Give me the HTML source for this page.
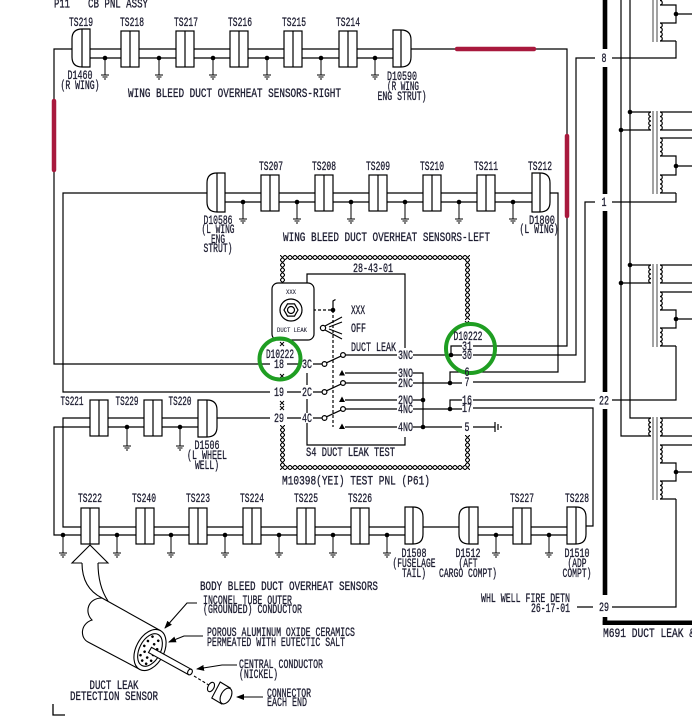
<!DOCTYPE html>
<html><head><meta charset="utf-8">
<style>
html,body{margin:0;padding:0;background:#fff;}
svg{display:block;}
text{font-family:"Liberation Mono","DejaVu Sans Mono",monospace;font-size:12.5px;fill:#1c1c30;stroke:#1c1c30;stroke-width:0.3px;}
.t{font-size:6.5px;stroke-width:0.1px;}
</style></head><body>
<svg width="692" height="720" viewBox="0 0 692 720" xmlns="http://www.w3.org/2000/svg">
<defs>
<pattern id="h" width="5" height="5" patternUnits="userSpaceOnUse">
<rect width="5" height="5" fill="#fff"/>
<path d="M0,0L5,5M5,0L0,5" stroke="#000" stroke-width="1.1"/>
</pattern>
<marker id="a" markerWidth="8" markerHeight="6" refX="7" refY="3" orient="auto" markerUnits="userSpaceOnUse">
<path d="M0,0L8,3L0,6Z" fill="#000"/>
</marker>
</defs>

<!-- WIRES -->
<g stroke="#000" stroke-width="1.2" fill="none">
<path d="M270,364H54V49H72M90,49H393M90,58H393M411,49H567V346H473"/>
<path d="M270,392H63V193H207M225,193H532M225,202H532M550,193H558V372H473"/>
<path d="M270,418H217M198,418H63V527H81M198,427H54V535H81"/>
<path d="M99,527H405M99,535H405M423,527H459M478,527H567M478,535H567M586,526H593V408H473"/>
<path d="M595,58H576V355H473M473,382H585V202H595M473,400H595M473,427H495"/>
<path d="M495,422V432M498,424V430M501,426V428"/>
<path d="M612,58H676V41M612,202H676V193M612,400H676V346M577,607H593M612,607H676V499"/>
<path d="M621,0V436H651M630,0V418H651M630,112H651M621,130H651M630,265H651M621,283H651"/>
<path d="M660,5H676V23H660M676,14H692M660,41H676"/>
<path d="M660,112H692M660,130H692M660,138H692M660,156H676V175H660M676,166H692M660,193H676"/>
<path d="M660,265H692M660,283H692M660,292H692M660,310H676V328H660M676,319H692M660,346H676"/>
<path d="M660,418H692M660,436H692M660,445H692M660,463H676V481H660M676,472H692M660,499H676"/>
<path d="M660,-13a2.25,2.25 0 0 1 0,4.5a2.25,2.25 0 0 1 0,4.5a2.25,2.25 0 0 1 0,4.5a2.25,2.25 0 0 1 0,4.5M660,23a2.25,2.25 0 0 1 0,4.5a2.25,2.25 0 0 1 0,4.5a2.25,2.25 0 0 1 0,4.5a2.25,2.25 0 0 1 0,4.5"/>
<path d="M660,112a2.25,2.25 0 0 1 0,4.5a2.25,2.25 0 0 1 0,4.5a2.25,2.25 0 0 1 0,4.5a2.25,2.25 0 0 1 0,4.5M660,138a2.25,2.25 0 0 1 0,4.5a2.25,2.25 0 0 1 0,4.5a2.25,2.25 0 0 1 0,4.5a2.25,2.25 0 0 1 0,4.5M660,175a2.25,2.25 0 0 1 0,4.5a2.25,2.25 0 0 1 0,4.5a2.25,2.25 0 0 1 0,4.5a2.25,2.25 0 0 1 0,4.5"/>
<path d="M660,265a2.25,2.25 0 0 1 0,4.5a2.25,2.25 0 0 1 0,4.5a2.25,2.25 0 0 1 0,4.5a2.25,2.25 0 0 1 0,4.5M660,292a2.25,2.25 0 0 1 0,4.5a2.25,2.25 0 0 1 0,4.5a2.25,2.25 0 0 1 0,4.5a2.25,2.25 0 0 1 0,4.5M660,328a2.25,2.25 0 0 1 0,4.5a2.25,2.25 0 0 1 0,4.5a2.25,2.25 0 0 1 0,4.5a2.25,2.25 0 0 1 0,4.5"/>
<path d="M660,418a2.25,2.25 0 0 1 0,4.5a2.25,2.25 0 0 1 0,4.5a2.25,2.25 0 0 1 0,4.5a2.25,2.25 0 0 1 0,4.5M660,445a2.25,2.25 0 0 1 0,4.5a2.25,2.25 0 0 1 0,4.5a2.25,2.25 0 0 1 0,4.5a2.25,2.25 0 0 1 0,4.5M660,481a2.25,2.25 0 0 1 0,4.5a2.25,2.25 0 0 1 0,4.5a2.25,2.25 0 0 1 0,4.5a2.25,2.25 0 0 1 0,4.5"/>
<path d="M651,112a2.25,2.25 0 0 0 0,4.5a2.25,2.25 0 0 0 0,4.5a2.25,2.25 0 0 0 0,4.5a2.25,2.25 0 0 0 0,4.5M651,265a2.25,2.25 0 0 0 0,4.5a2.25,2.25 0 0 0 0,4.5a2.25,2.25 0 0 0 0,4.5a2.25,2.25 0 0 0 0,4.5M651,418a2.25,2.25 0 0 0 0,4.5a2.25,2.25 0 0 0 0,4.5a2.25,2.25 0 0 0 0,4.5a2.25,2.25 0 0 0 0,4.5"/>
<path d="M307,283V274H405V348M405,437V445H307V423M307,373V385M307,399V413"/>
<path d="M287,364H301M313,364H322M287,392H301M313,392H322M287,418H301M313,418H322"/>
<path d="M326.5,362.8L340.8,356.2M326.5,390.8L340.8,384.2M326.5,416.8L340.8,410.2"/>
<path d="M345.5,355H397M345.5,383H397M345.5,409H397M345,373H397M345,400H397M345,427H397"/>
<path d="M413,355H462M413,373H423V427M413,400H423M413,427H462M413,383H462M413,409H462"/>
<path d="M451,355V346H462M450,383V372H462M450,409V400H462"/>
<path d="M303,310H333M333,310V427" stroke-dasharray="3,2"/>
<path d="M333,310V301l2.5,-1.5"/>
<path d="M325,326L342,317M325,330L342,339M329,327L342,322M329,329L342,334"/>
<path d="M280,342l4,4M284,342l-4,4M280,374l4,4M284,374l-4,4M280,401l4,4M284,401l-4,4M280,406l4,4M284,406l-4,4M465,321l4,4M469,321l-4,4" stroke-width="1"/>
<g stroke-width="1">
<path d="M105,58V75M101,75H109M102.5,77H107.5M104,79H106M159,58V75M155,75H163M156.5,77H161.5M158,79H160M213,58V75M209,75H217M210.5,77H215.5M212,79H214M267,58V75M263,75H271M264.5,77H269.5M266,79H268M321,58V75M317,75H325M318.5,77H323.5M320,79H322M375,58V75M371,75H379M372.5,77H377.5M374,79H376"/>
<path d="M243,202V219M239,219H247M240.5,221H245.5M242,223H244M297,202V219M293,219H301M294.5,221H299.5M296,223H298M351,202V219M347,219H355M348.5,221H353.5M350,223H352M405,202V219M401,219H409M402.5,221H407.5M404,223H406M459,202V219M455,219H463M456.5,221H461.5M458,223H460M513,202V219M509,219H517M510.5,221H515.5M512,223H514"/>
<path d="M127,427V446M123,446H131M124.5,448H129.5M126,450H128M180,427V446M176,446H184M177.5,448H182.5M179,450H181"/>
<path d="M63,535V553M59,553H67M60.5,555H65.5M62,557H64M117,535V553M113,553H121M114.5,555H119.5M116,557H118M171,535V553M167,553H175M168.5,555H173.5M170,557H172M225,535V553M221,553H229M222.5,555H227.5M224,557H226M279,535V553M275,553H283M276.5,555H281.5M278,557H280M333,535V553M329,553H337M330.5,555H335.5M332,557H334M387,535V553M383,553H391M384.5,555H389.5M386,557H388M496,535V553M492,553H500M493.5,555H498.5M495,557H497M549,535V553M545,553H553M546.5,555H551.5M548,557H550"/>
</g>
</g>

<g stroke="#7a7a7a" stroke-width="1.4" fill="none">
<path d="M653,0V42M657,0V42M653,111V194M657,111V194M653,264V347M657,264V347M653,417V500M657,417V500"/>
</g>

<g stroke="#a8193d" stroke-width="4.5" stroke-linecap="round" fill="none">
<path d="M457,49H534M54,101V170M567,136V216"/>
</g>

<g fill="#000">
<rect x="602.7" y="0" width="4.6" height="49"/>
<rect x="602.7" y="67" width="4.6" height="127"/>
<rect x="602.7" y="211" width="4.6" height="181"/>
<rect x="602.7" y="409" width="4.6" height="186"/>
<rect x="602.7" y="617" width="4.6" height="8"/>
<rect x="602.7" y="620.5" width="90" height="4.5"/>
</g>

<g fill="url(#h)">
<rect x="280" y="255" width="190" height="5"/>
<rect x="280" y="255" width="5" height="30"/>
<rect x="280" y="425" width="5" height="45"/>
<rect x="465" y="255" width="5" height="65"/>
<rect x="465" y="435" width="5" height="35"/>
<rect x="280" y="465" width="190" height="5"/>
</g>

<g stroke="#000" stroke-width="1.2" fill="#fff">
<rect x="121" y="31" width="18" height="36"/><rect x="176" y="31" width="18" height="36"/><rect x="230" y="31" width="18" height="36"/><rect x="284" y="31" width="18" height="36"/><rect x="339" y="31" width="18" height="36"/>
<rect x="261" y="175" width="18" height="36"/><rect x="315" y="175" width="18" height="36"/><rect x="369" y="175" width="18" height="36"/><rect x="423" y="175" width="18" height="36"/><rect x="477" y="175" width="18" height="36"/>
<rect x="90" y="400" width="18" height="36"/><rect x="144" y="400" width="18" height="36"/>
<rect x="81" y="508" width="18" height="36"/><rect x="136" y="508" width="18" height="36"/><rect x="189" y="508" width="18" height="36"/><rect x="243" y="508" width="18" height="36"/><rect x="297" y="508" width="18" height="36"/><rect x="351" y="508" width="18" height="36"/><rect x="513" y="508" width="18" height="36"/>
<path fill="none" d="M130,31V67M185,31V67M239,31V67M293,31V67M348,31V67M270,175V211M324,175V211M378,175V211M432,175V211M486,175V211M99,400V436M153,400V436M90,508V544M145,508V544M198,508V544M252,508V544M306,508V544M360,508V544M522,508V544"/>
<path d="M90,29H82Q72,29 72,39V57Q72,67 82,67H90Z"/>
<path d="M393,30H401Q411,30 411,40V57Q411,67 401,67H393Z"/>
<path d="M225,173H217Q207,173 207,183V202Q207,212 217,212H225Z"/>
<path d="M532,173H540Q550,173 550,183V202Q550,212 540,212H532Z"/>
<path d="M198,400H207Q217,400 217,410V427Q217,437 207,437H198Z"/>
<path d="M405,507H413Q423,507 423,517V534Q423,544 413,544H405Z"/>
<path d="M478,507H469Q459,507 459,517V534Q459,544 469,544H478Z"/>
<path d="M567,507H576Q586,507 586,517V534Q586,544 576,544H567Z"/>
<path fill="none" d="M82,29V67M401,30V67M217,173V212M540,173V212M207,400V437M413,507V544M469,507V544M576,507V544"/>
<rect x="272" y="283" width="42" height="57" rx="6"/>
<circle cx="291" cy="310" r="11"/>
<polygon points="298,310 294.5,316.1 287.5,316.1 284,310 287.5,303.9 294.5,303.9"/>
<circle cx="291" cy="310" r="3.5"/>
<circle cx="323" cy="328" r="2.6"/>
<circle cx="324.5" cy="364" r="2.4"/><circle cx="343" cy="355" r="2.4"/>
<circle cx="324.5" cy="392" r="2.4"/><circle cx="343" cy="383" r="2.4"/>
<circle cx="324.5" cy="418" r="2.4"/><circle cx="343" cy="409" r="2.4"/>
</g>

<g fill="#000">
<path d="M339,375.5L345,375.5L342,370ZM339,402L345,402L342,396.5ZM339,429L345,429L342,423.5Z"/>
<circle cx="105" cy="58" r="2.3"/><circle cx="159" cy="58" r="2.3"/><circle cx="213" cy="58" r="2.3"/><circle cx="267" cy="58" r="2.3"/><circle cx="321" cy="58" r="2.3"/><circle cx="375" cy="58" r="2.3"/>
<circle cx="243" cy="202" r="2.3"/><circle cx="297" cy="202" r="2.3"/><circle cx="351" cy="202" r="2.3"/><circle cx="405" cy="202" r="2.3"/><circle cx="459" cy="202" r="2.3"/><circle cx="513" cy="202" r="2.3"/>
<circle cx="127" cy="427" r="2.3"/><circle cx="180" cy="427" r="2.3"/>
<circle cx="63" cy="535" r="2.3"/><circle cx="117" cy="535" r="2.3"/><circle cx="171" cy="535" r="2.3"/><circle cx="225" cy="535" r="2.3"/><circle cx="279" cy="535" r="2.3"/><circle cx="333" cy="535" r="2.3"/><circle cx="387" cy="535" r="2.3"/><circle cx="496" cy="535" r="2.3"/><circle cx="549" cy="535" r="2.3"/>
<circle cx="423" cy="400" r="2.3"/><circle cx="423" cy="427" r="2.3"/><circle cx="451" cy="355" r="2.3"/><circle cx="450" cy="383" r="2.3"/><circle cx="450" cy="409" r="2.3"/><circle cx="333" cy="310" r="2.3"/>
<circle cx="676" cy="14" r="2.3"/><circle cx="676" cy="166" r="2.3"/><circle cx="676" cy="319" r="2.3"/><circle cx="676" cy="472" r="2.3"/>
<circle cx="630" cy="112" r="2.3"/><circle cx="621" cy="130" r="2.3"/><circle cx="630" cy="265" r="2.3"/><circle cx="621" cy="283" r="2.3"/>
</g>

<g stroke="#000" stroke-width="1.1" fill="#fff">
<path fill="none" d="M82,563H72L90,545L108,563H98"/>
<path fill="none" d="M82,563C82,583 92,593 102,598M98,563C98,580 102,592 108,601"/>
<path d="M102,598L160.2,630.5L140,669.5L88,642C80,638 80,624 92,620C84,612 88,598 102,598Z"/>
<ellipse cx="0" cy="0" rx="14" ry="22" transform="translate(150,650) rotate(27.7)"/>
<ellipse cx="0" cy="0" rx="10.5" ry="17.5" transform="translate(150,650) rotate(27.7)"/>
<g fill="#000" stroke="none" transform="translate(150,650) rotate(27.7)">
<circle cx="-4" cy="-13" r="1.3"/><circle cx="3" cy="-12" r="1.3"/><circle cx="-6" cy="-7" r="1.3"/><circle cx="1" cy="-7" r="1.3"/><circle cx="6" cy="-4" r="1.3"/><circle cx="-7" cy="-1" r="1.3"/><circle cx="-4" cy="4" r="1.3"/><circle cx="5" cy="3" r="1.3"/><circle cx="-6" cy="9" r="1.3"/><circle cx="1" cy="8" r="1.3"/><circle cx="6" cy="9" r="1.3"/><circle cx="-2" cy="13" r="1.3"/><circle cx="3" cy="14" r="1.3"/>
</g>
<polygon points="151.5,647.4 191.5,669.4 188.5,674.6 148.5,652.6"/>
<ellipse cx="0" cy="0" rx="2.2" ry="3" transform="translate(190,672) rotate(27.7)"/>
<path fill="none" d="M194,676L212,687" stroke-dasharray="3,2"/>
<ellipse cx="0" cy="0" rx="3" ry="5" transform="translate(211,687) rotate(27.7)"/>
<polygon points="220.2,682 230.2,688 221.8,704 211.8,698"/>
<ellipse cx="0" cy="0" rx="5" ry="8.5" transform="translate(226,696) rotate(27.7)"/>
<g fill="none" marker-end="url(#a)">
<path d="M197,603H187L165,628"/>
<path d="M203,636H184L169,642"/>
<path d="M237,665H222L197,669"/>
<path d="M263,697H237"/>
</g>
<path fill="none" stroke-width="1.3" d="M53,704V715H65"/>
</g>

<g fill="none" stroke="#1f9e22" stroke-width="4">
<circle cx="280" cy="359" r="20.5"/>
<circle cx="470.5" cy="348.5" r="24.5"/>
</g>

<g>
<text x="54" y="7.5" textLength="16" lengthAdjust="spacingAndGlyphs">P11</text>
<text x="88" y="7.5" textLength="60" lengthAdjust="spacingAndGlyphs">CB PNL ASSY</text>
<g text-anchor="middle">
<text x="81" y="26" textLength="24" lengthAdjust="spacingAndGlyphs">TS219</text>
<text x="132" y="26" textLength="24" lengthAdjust="spacingAndGlyphs">TS218</text>
<text x="186" y="26" textLength="24" lengthAdjust="spacingAndGlyphs">TS217</text>
<text x="240" y="26" textLength="24" lengthAdjust="spacingAndGlyphs">TS216</text>
<text x="294" y="26" textLength="24" lengthAdjust="spacingAndGlyphs">TS215</text>
<text x="348" y="26" textLength="24" lengthAdjust="spacingAndGlyphs">TS214</text>
<text x="80" y="79" textLength="25" lengthAdjust="spacingAndGlyphs">D1460</text>
<text x="80" y="89" textLength="39" lengthAdjust="spacingAndGlyphs">(R WING)</text>
<text x="402" y="80" textLength="30" lengthAdjust="spacingAndGlyphs">D10590</text>
<text x="403" y="90" textLength="32" lengthAdjust="spacingAndGlyphs">(R WING</text>
<text x="402" y="100" textLength="49" lengthAdjust="spacingAndGlyphs">ENG STRUT)</text>
<text x="271" y="170" textLength="24" lengthAdjust="spacingAndGlyphs">TS207</text>
<text x="324" y="170" textLength="24" lengthAdjust="spacingAndGlyphs">TS208</text>
<text x="378" y="170" textLength="24" lengthAdjust="spacingAndGlyphs">TS209</text>
<text x="432" y="170" textLength="24" lengthAdjust="spacingAndGlyphs">TS210</text>
<text x="486" y="170" textLength="24" lengthAdjust="spacingAndGlyphs">TS211</text>
<text x="540" y="170" textLength="24" lengthAdjust="spacingAndGlyphs">TS212</text>
<text x="218" y="224" textLength="29" lengthAdjust="spacingAndGlyphs">D10586</text>
<text x="218" y="233" textLength="33" lengthAdjust="spacingAndGlyphs">(L WING</text>
<text x="218" y="243" textLength="14" lengthAdjust="spacingAndGlyphs">ENG</text>
<text x="218" y="252" textLength="29" lengthAdjust="spacingAndGlyphs">STRUT)</text>
<text x="542" y="224" textLength="26" lengthAdjust="spacingAndGlyphs">D1800</text>
<text x="539" y="233" textLength="39" lengthAdjust="spacingAndGlyphs">(L WING)</text>
<text class="t" x="291" y="294" textLength="10" lengthAdjust="spacingAndGlyphs">XXX</text>
<text class="t" x="292" y="332" textLength="30" lengthAdjust="spacingAndGlyphs">DUCT LEAK</text>
<text x="280" y="358" textLength="28" lengthAdjust="spacingAndGlyphs">D10222</text>
<text x="279" y="368" textLength="10" lengthAdjust="spacingAndGlyphs">18</text>
<text x="279" y="396" textLength="10" lengthAdjust="spacingAndGlyphs">19</text>
<text x="279" y="422" textLength="10" lengthAdjust="spacingAndGlyphs">29</text>
<text x="307" y="368" textLength="10" lengthAdjust="spacingAndGlyphs">3C</text>
<text x="307" y="396" textLength="10" lengthAdjust="spacingAndGlyphs">2C</text>
<text x="307" y="422" textLength="10" lengthAdjust="spacingAndGlyphs">4C</text>
<text x="468" y="340" textLength="29" lengthAdjust="spacingAndGlyphs">D10222</text>
<text x="467" y="350" textLength="10" lengthAdjust="spacingAndGlyphs">31</text>
<text x="467" y="359" textLength="10" lengthAdjust="spacingAndGlyphs">30</text>
<text x="467" y="376" textLength="5" lengthAdjust="spacingAndGlyphs">6</text>
<text x="467" y="386" textLength="5" lengthAdjust="spacingAndGlyphs">7</text>
<text x="467" y="404" textLength="10" lengthAdjust="spacingAndGlyphs">16</text>
<text x="467" y="412" textLength="10" lengthAdjust="spacingAndGlyphs">17</text>
<text x="467" y="431" textLength="5" lengthAdjust="spacingAndGlyphs">5</text>
<text x="604" y="62" textLength="5" lengthAdjust="spacingAndGlyphs">8</text>
<text x="604" y="206" textLength="5" lengthAdjust="spacingAndGlyphs">1</text>
<text x="604" y="404.5" textLength="10" lengthAdjust="spacingAndGlyphs">22</text>
<text x="604" y="611" textLength="10" lengthAdjust="spacingAndGlyphs">29</text>
<text x="72" y="405" textLength="23" lengthAdjust="spacingAndGlyphs">TS221</text>
<text x="127" y="405" textLength="23" lengthAdjust="spacingAndGlyphs">TS229</text>
<text x="180" y="405" textLength="23" lengthAdjust="spacingAndGlyphs">TS220</text>
<text x="207" y="449" textLength="25" lengthAdjust="spacingAndGlyphs">D1506</text>
<text x="207" y="459" textLength="40" lengthAdjust="spacingAndGlyphs">(L WHEEL</text>
<text x="207" y="469" textLength="24" lengthAdjust="spacingAndGlyphs">WELL)</text>
<text x="90" y="502" textLength="24" lengthAdjust="spacingAndGlyphs">TS222</text>
<text x="144" y="502" textLength="24" lengthAdjust="spacingAndGlyphs">TS240</text>
<text x="198" y="502" textLength="24" lengthAdjust="spacingAndGlyphs">TS223</text>
<text x="252" y="502" textLength="24" lengthAdjust="spacingAndGlyphs">TS224</text>
<text x="306" y="502" textLength="24" lengthAdjust="spacingAndGlyphs">TS225</text>
<text x="360" y="502" textLength="24" lengthAdjust="spacingAndGlyphs">TS226</text>
<text x="522" y="502" textLength="24" lengthAdjust="spacingAndGlyphs">TS227</text>
<text x="577" y="502" textLength="24" lengthAdjust="spacingAndGlyphs">TS228</text>
<text x="414" y="557" textLength="25" lengthAdjust="spacingAndGlyphs">D1508</text>
<text x="414" y="567" textLength="43" lengthAdjust="spacingAndGlyphs">(FUSELAGE</text>
<text x="414" y="577" textLength="24" lengthAdjust="spacingAndGlyphs">TAIL)</text>
<text x="468" y="557" textLength="25" lengthAdjust="spacingAndGlyphs">D1512</text>
<text x="468" y="567" textLength="19" lengthAdjust="spacingAndGlyphs">(AFT</text>
<text x="468" y="577" textLength="58" lengthAdjust="spacingAndGlyphs">CARGO COMPT)</text>
<text x="577" y="557" textLength="25" lengthAdjust="spacingAndGlyphs">D1510</text>
<text x="577" y="567" textLength="19" lengthAdjust="spacingAndGlyphs">(ADP</text>
<text x="577" y="577" textLength="29" lengthAdjust="spacingAndGlyphs">COMPT)</text>
<text x="114" y="689" textLength="49" lengthAdjust="spacingAndGlyphs">DUCT LEAK</text>
</g>
<text x="128" y="97" textLength="213" lengthAdjust="spacingAndGlyphs">WING BLEED DUCT OVERHEAT SENSORS-RIGHT</text>
<text x="283" y="241" textLength="207" lengthAdjust="spacingAndGlyphs">WING BLEED DUCT OVERHEAT SENSORS-LEFT</text>
<text x="353" y="272" textLength="40" lengthAdjust="spacingAndGlyphs">28-43-01</text>
<text x="351" y="314" textLength="14" lengthAdjust="spacingAndGlyphs">XXX</text>
<text x="351" y="332" textLength="15" lengthAdjust="spacingAndGlyphs">OFF</text>
<text x="351" y="351" textLength="45" lengthAdjust="spacingAndGlyphs">DUCT LEAK</text>
<text x="398" y="359" textLength="15" lengthAdjust="spacingAndGlyphs">3NC</text>
<text x="398" y="377" textLength="15" lengthAdjust="spacingAndGlyphs">3NO</text>
<text x="398" y="387" textLength="15" lengthAdjust="spacingAndGlyphs">2NC</text>
<text x="398" y="404" textLength="15" lengthAdjust="spacingAndGlyphs">2NO</text>
<text x="398" y="413" textLength="15" lengthAdjust="spacingAndGlyphs">4NC</text>
<text x="398" y="431" textLength="15" lengthAdjust="spacingAndGlyphs">4NO</text>
<text x="306" y="456" textLength="89" lengthAdjust="spacingAndGlyphs">S4  DUCT LEAK TEST</text>
<text x="282" y="484.5" textLength="148" lengthAdjust="spacingAndGlyphs">M10398(YEI) TEST PNL (P61)</text>
<text x="481" y="602" textLength="89" lengthAdjust="spacingAndGlyphs">WHL WELL FIRE DETN</text>
<text x="531" y="612" textLength="39" lengthAdjust="spacingAndGlyphs">26-17-01</text>
<text x="603" y="637" textLength="92" lengthAdjust="spacingAndGlyphs">M691  DUCT LEAK &amp;</text>
<text x="200" y="590" textLength="178" lengthAdjust="spacingAndGlyphs">BODY BLEED DUCT OVERHEAT SENSORS</text>
<text x="203" y="604" textLength="89" lengthAdjust="spacingAndGlyphs">INCONEL TUBE OUTER</text>
<text x="203" y="613" textLength="99" lengthAdjust="spacingAndGlyphs">(GROUNDED) CONDUCTOR</text>
<text x="207" y="636" textLength="148" lengthAdjust="spacingAndGlyphs">POROUS ALUMINUM OXIDE CERAMICS</text>
<text x="207" y="646" textLength="138" lengthAdjust="spacingAndGlyphs">PERMEATED WITH EUTECTIC SALT</text>
<text x="239" y="668" textLength="84" lengthAdjust="spacingAndGlyphs">CENTRAL CONDUCTOR</text>
<text x="239" y="678" textLength="39" lengthAdjust="spacingAndGlyphs">(NICKEL)</text>
<text x="267" y="697" textLength="44" lengthAdjust="spacingAndGlyphs">CONNECTOR</text>
<text x="267" y="706" textLength="40" lengthAdjust="spacingAndGlyphs">EACH END</text>
<text x="70" y="700" textLength="88" lengthAdjust="spacingAndGlyphs">DETECTION SENSOR</text>
</g>
</svg>
</body></html>
